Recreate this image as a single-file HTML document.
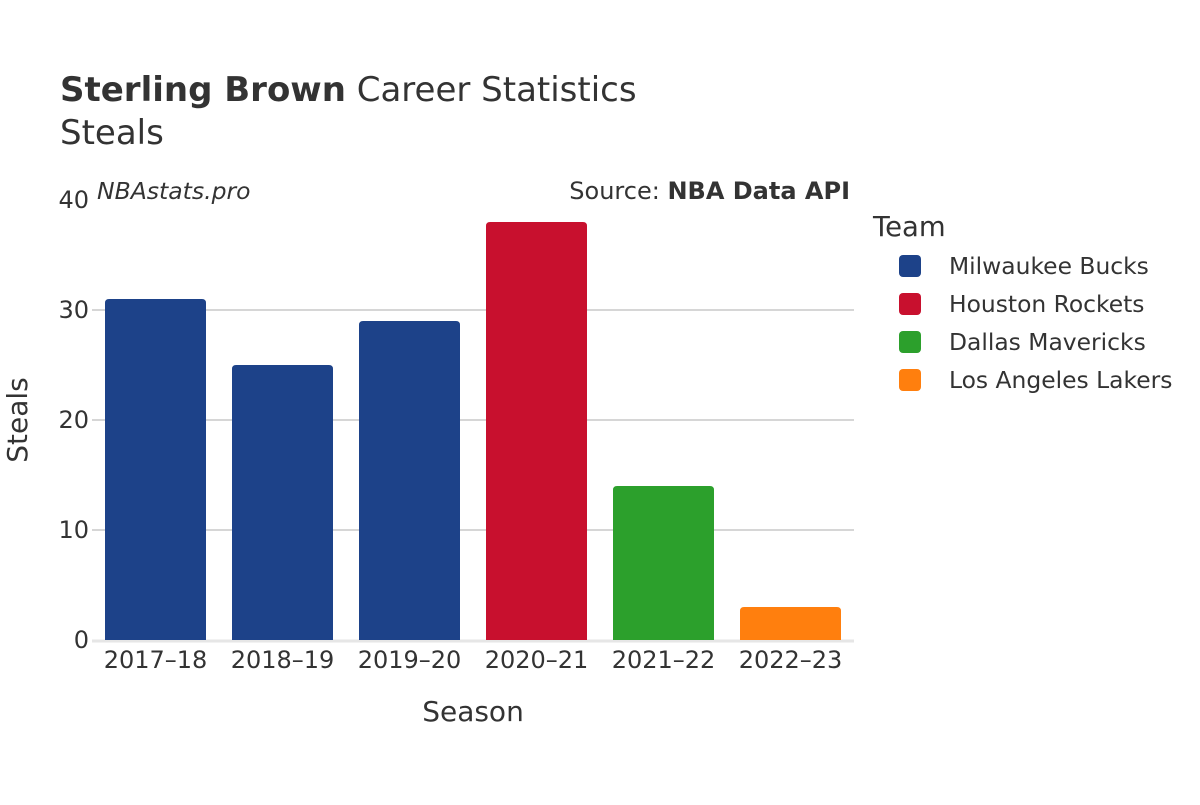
<!DOCTYPE html>
<html><head><meta charset="utf-8">
<style>
body{margin:0;background:#fff;}
svg{font-family:"DejaVu Sans","Liberation Sans",sans-serif;}
</style></head>
<body>
<svg id="chart" width="1200" height="800" viewBox="0 0 1200 800" xmlns="http://www.w3.org/2000/svg">
  <rect width="1200" height="800" fill="#fff"/>
  <text x="60" y="101" font-size="34" fill="#333"><tspan font-weight="bold">Sterling Brown</tspan> Career Statistics</text>
  <text x="60" y="144" font-size="34" fill="#333">Steals</text>
  <text x="97" y="199" font-size="23.5" font-style="italic" fill="#333">NBAstats.pro</text>
  <text x="850" y="199" font-size="24" fill="#333" text-anchor="end">Source: <tspan font-weight="bold">NBA Data API</tspan></text>
  <g id="grid"></g>
  <g id="bars"></g>
  <g id="xticks"></g>
  <g id="yticks"></g>
  <text x="473" y="721" font-size="28" fill="#333" text-anchor="middle">Season</text>
  <text transform="translate(27,420) rotate(-90)" font-size="28" fill="#333" text-anchor="middle">Steals</text>
  <text x="873" y="236" font-size="27.5" fill="#333">Team</text>
  <g id="legend"></g>
</svg>
<script>
const seasons=["2017–18","2018–19","2019–20","2020–21","2021–22","2022–23"];
const steals=[31,25,29,38,14,3];
const teams=["Milwaukee Bucks","Milwaukee Bucks","Milwaukee Bucks","Houston Rockets","Dallas Mavericks","Los Angeles Lakers"];
const yTicks=[0,10,20,30,40];
const legendTeams=["Milwaukee Bucks","Houston Rockets","Dallas Mavericks","Los Angeles Lakers"];
const teamColors={"Milwaukee Bucks":"#1d4289","Houston Rockets":"#c8102e","Dallas Mavericks":"#2ca02c","Los Angeles Lakers":"#ff7f0e"};

const NS="http://www.w3.org/2000/svg";
const x0=92,x1=854,yBase=640,yTop=200,yMax=40;
const band=(x1-x0)/seasons.length;
const y=v=>yBase-(v/yMax)*(yBase-yTop);
const xc=i=>x0+band*(i+0.5);
function mk(tag,attrs,parent){const e=document.createElementNS(NS,tag);for(const k in attrs)e.setAttribute(k,attrs[k]);document.getElementById(parent).appendChild(e);return e;}

yTicks.forEach(t=>{
  if(t>0&&t<yMax){const l=mk("line",{x1:x0,x2:x1,y1:y(t),y2:y(t),stroke:"#c8c8c8","stroke-width":1.5},"grid");
  
  }
  const tx=mk("text",{x:89,y:y(t)+8,"font-size":24,fill:"#333","text-anchor":"end"},"yticks");
  tx.textContent=t;
  
  
});
const zl=mk("line",{x1:x0,x2:x1,y1:yBase+1,y2:yBase+1,stroke:"#e6e6e6","stroke-width":3},"grid");



const bw=101;
seasons.forEach((s,i)=>{
  const top=y(steals[i]),r=4,L=xc(i)-bw/2,R=L+bw;
  const d=`M${L},${yBase}V${top+r}Q${L},${top} ${L+r},${top}H${R-r}Q${R},${top} ${R},${top+r}V${yBase}Z`;
  const p=mk("path",{d:d,fill:teamColors[teams[i]]},"bars");
  
  
  const tx=mk("text",{x:xc(i),y:668,"font-size":24,fill:"#333","text-anchor":"middle"},"xticks");
  tx.textContent=s;
  
  
});

legendTeams.forEach((t,i)=>{
  const cy=266+i*38;
  const r=mk("rect",{x:899,y:cy-11,width:22,height:22,rx:4,fill:teamColors[t]},"legend");
  
  
  const tx=mk("text",{x:949,y:cy+8,"font-size":23.4,fill:"#333"},"legend");
  tx.textContent=t;
  
  
});
</script>
</body></html>
